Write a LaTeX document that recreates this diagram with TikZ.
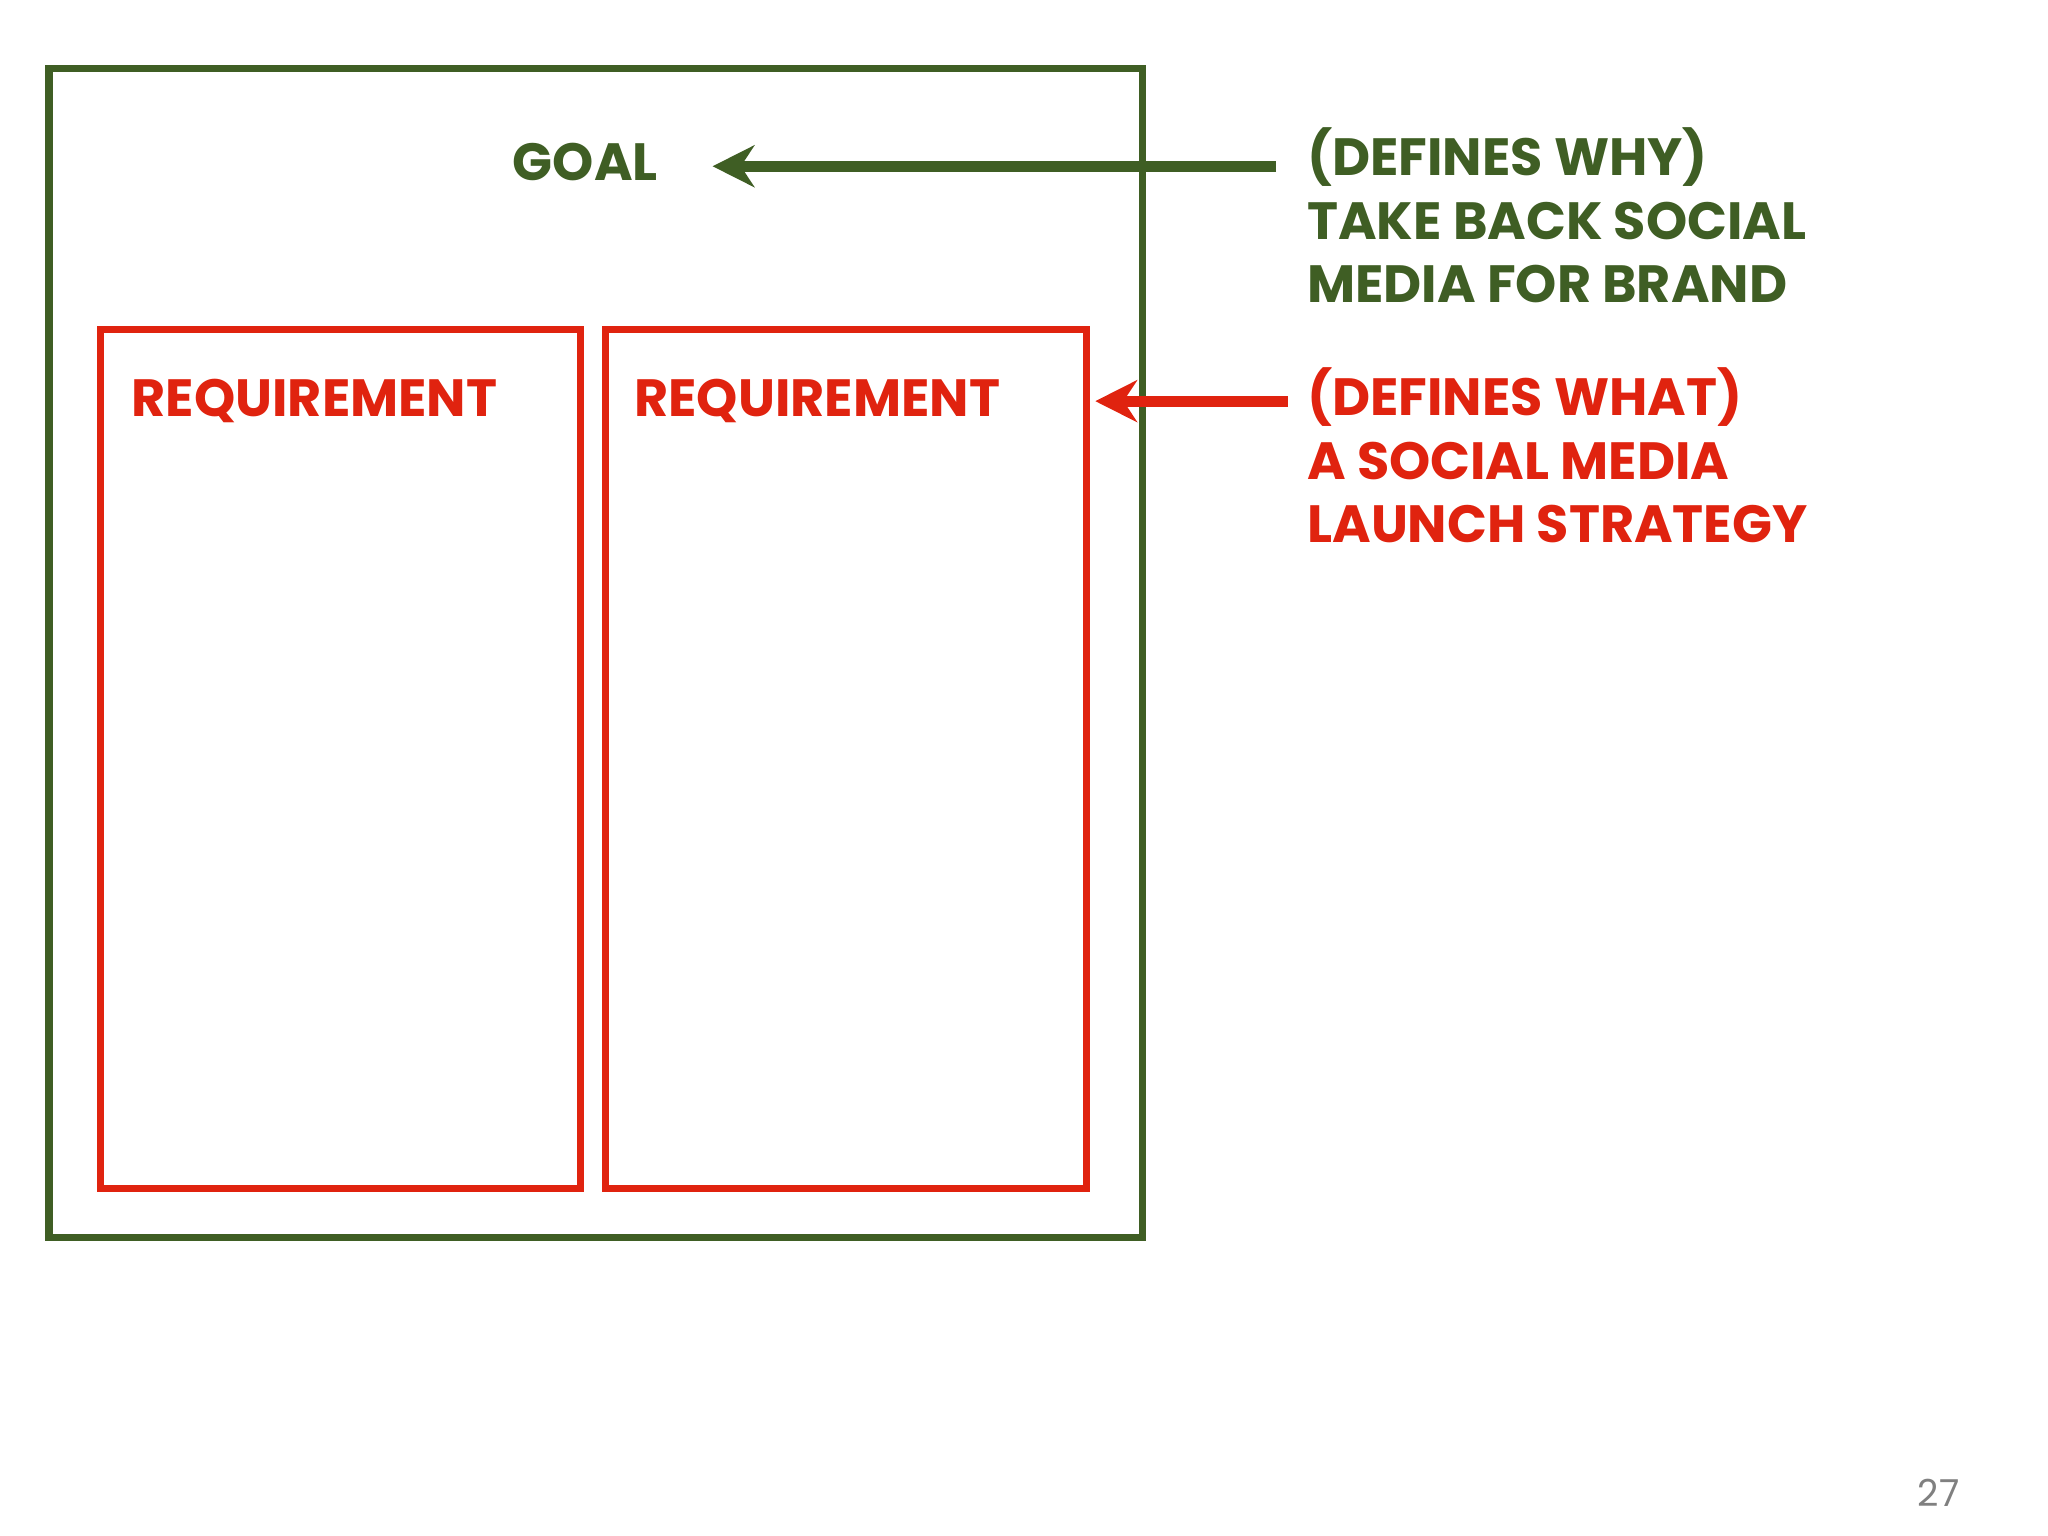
\documentclass[tikz,border=0pt]{standalone}
\usepackage{fontspec}
\setmainfont{Poppins}
\usetikzlibrary{arrows.meta}
\definecolor{gr}{HTML}{3F5E24}
\definecolor{rd}{HTML}{E0230F}
\begin{document}
\begin{tikzpicture}[x=0.01cm,y=-0.01cm,
  lbl/.style={font=\bfseries\fontsize{11.3}{13.7}\selectfont,inner sep=0pt},
  arr/.style={line width=2.4pt,-{Stealth[length=9pt,width=9pt]}}]
\useasboundingbox (0,0) rectangle (1552,1164);
\draw[gr,line width=1.6pt] (37,52) rectangle (866,938);
\draw[rd,line width=1.5pt] (76,250) rectangle (440,901);
\draw[rd,line width=1.5pt] (459,250) rectangle (823,901);
\node[lbl,gr,anchor=west] (goal) at (388,123) {GOAL};
\node[lbl,rd,anchor=west] (r1) at (99,304) {REQUIREMENT};
\node[lbl,rd,anchor=west] (r2) at (480,304) {REQUIREMENT};
\node[lbl,gr,anchor=north west,align=left] (gt) at (990,96) {(DEFINES WHY)\\TAKE BACK SOCIAL\\MEDIA FOR BRAND};
\node[lbl,rd,anchor=north west,align=left] (rt) at (990,278) {(DEFINES WHAT)\\A SOCIAL MEDIA\\LAUNCH STRATEGY};
\coordinate (ga) at (967,126);
\coordinate (ra) at (976,304);
\draw[arr,gr] (ga) -- (540,126);
\draw[arr,rd] (ra) -- (830,304);
\node[gray,font=\fontsize{8}{10}\selectfont] (pn) at (1469,1131) {27};
\end{tikzpicture}
\end{document}
